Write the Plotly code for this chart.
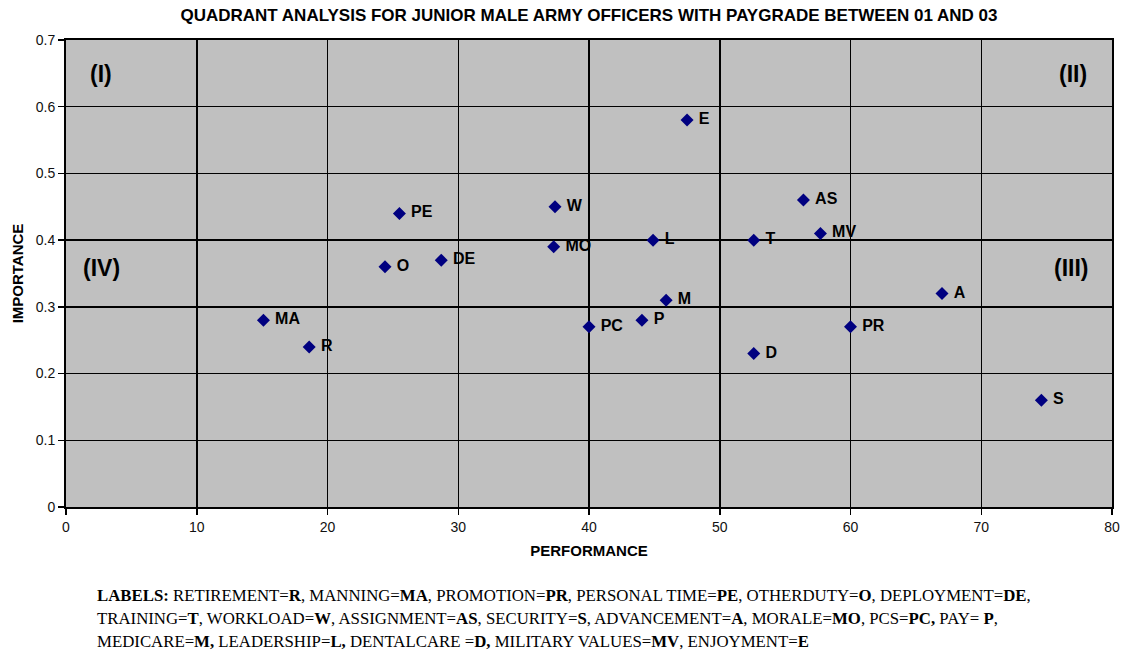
import plotly.graph_objects as go

labels = ["R", "MA", "PR", "PE", "O", "DE", "T", "W", "AS", "S", "A", "MO",
          "PC", "P", "M", "L", "D", "MV", "E"]
performance = [18.6, 15.1, 60.0, 25.5, 24.4, 28.7, 52.6, 37.4, 56.4, 74.6, 67.0, 37.3,
               40.0, 44.05, 45.9, 44.9, 52.6, 57.7, 47.5]
importance = [0.24, 0.28, 0.27, 0.44, 0.36, 0.37, 0.40, 0.45, 0.46, 0.16, 0.32, 0.39,
              0.27, 0.28, 0.31, 0.40, 0.23, 0.41, 0.58]

x_ticks = [0, 10, 20, 30, 40, 50, 60, 70, 80]
y_ticks = [0, 0.1, 0.2, 0.3, 0.4, 0.5, 0.6, 0.7]
y_tick_text = ["0", "0.1", "0.2", "0.3", "0.4", "0.5", "0.6", "0.7"]

quadrants = ["(I)", "(II)", "(III)", "(IV)"]

legend_lines = [
    "<b>LABELS:</b> RETIREMENT=<b>R</b>, MANNING=<b>MA</b>, PROMOTION=<b>PR</b>, PERSONAL TIME=<b>PE</b>, OTHERDUTY=<b>O</b>, DEPLOYMENT=<b>DE</b>,",
    "TRAINING=<b>T</b>, WORKLOAD=<b>W</b>, ASSIGNMENT=<b>AS</b>, SECURITY=<b>S</b>, ADVANCEMENT=<b>A</b>, MORALE=<b>MO</b>, PCS=<b>PC,</b> PAY= <b>P</b>,",
    "MEDICARE=<b>M,</b> LEADERSHIP=<b>L,</b> DENTALCARE =<b>D,</b> MILITARY VALUES=<b>MV</b>, ENJOYMENT=<b>E</b>",
]

ARIAL = "Arial, Liberation Sans, sans-serif"
W, H = 1122, 651
L, R, T, B = 66, 1112, 40, 507

fig = go.Figure()
fig.add_trace(go.Scatter(
    x=performance, y=importance, mode="markers+text",
    text=["\u00a0" + s for s in labels], textposition="middle right",
    textfont=dict(family=ARIAL, size=16, color="black", weight="bold"),
    marker=dict(symbol="diamond", size=10, color="#000080"),
    cliponaxis=False, hoverinfo="skip", showlegend=False,
))

axis_common = dict(
    showgrid=True, gridcolor="black", gridwidth=1.5,
    showline=True, linecolor="black", linewidth=2, mirror=True,
    ticks="outside", ticklen=6, tickcolor="black", tickwidth=1.5,
    zeroline=False, automargin=False, ticklabeloverflow="allow",
    tickfont=dict(family=ARIAL, size=14, color="#111"),
)

fig.update_xaxes(range=[0, 80], tickvals=x_ticks, **axis_common,
                 title=dict(text="<b>PERFORMANCE</b>", standoff=12,
                            font=dict(family=ARIAL, size=15, color="black")))
fig.update_yaxes(range=[0, 0.7], tickvals=y_ticks, ticktext=y_tick_text, **axis_common,
                 title=dict(text="<b>IMPORTANCE</b>", standoff=8,
                            font=dict(family=ARIAL, size=15, color="black")))

def px_x(sx):
    return (sx - L) / (R - L)

def px_y(sy):
    return (B - sy) / (B - T)

quad_pos = [(101, 74), (1073, 74), (1071, 268), (101, 268)]
annotations = []
for q, (qx, qy) in zip(quadrants, quad_pos):
    annotations.append(dict(text="<b>" + q + "</b>", x=px_x(qx), y=px_y(qy), xref="paper", yref="paper",
                            xanchor="center", yanchor="middle", showarrow=False,
                            font=dict(family=ARIAL, size=23, color="black")))

for i, line in enumerate(legend_lines):
    annotations.append(dict(text=line, x=px_x(95), y=px_y(595 + 23 * i),
                            xref="paper", yref="paper", xanchor="left", yanchor="middle",
                            showarrow=False, align="left",
                            font=dict(family="Liberation Serif, Times New Roman, serif", size=16.8, color="black")))

fig.update_layout(
    width=W, height=H,
    margin=dict(l=L, r=W - R, t=T, b=H - B, autoexpand=False),
    paper_bgcolor="white", plot_bgcolor="#C0C0C0",
    title=dict(text="<b>QUADRANT ANALYSIS FOR JUNIOR MALE ARMY OFFICERS WITH PAYGRADE BETWEEN 01 AND 03</b>",
               x=0.5, xanchor="center", xref="paper", y=1 - 15 / H, yanchor="middle",
               font=dict(family=ARIAL, size=17, color="black")),
    annotations=annotations,
)

fig.write_html("out.html",
               config={"displayModeBar": False, "staticPlot": True},
               post_script="document.body.style.margin='0';document.body.style.overflow='hidden';")
